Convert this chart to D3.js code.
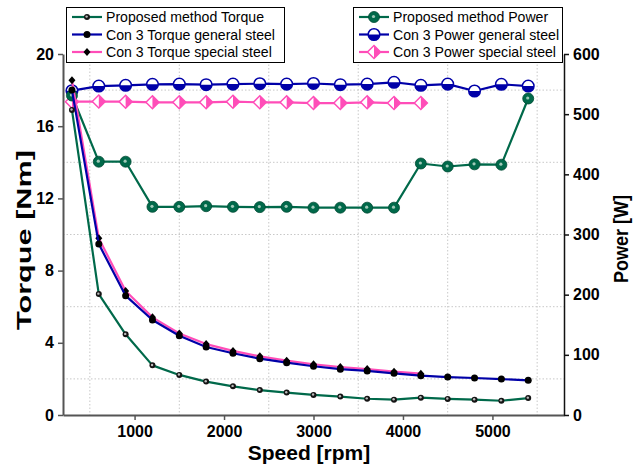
<!DOCTYPE html>
<html><head><meta charset="utf-8">
<script src="https://cdn.jsdelivr.net/npm/d3@7/dist/d3.min.js"></script>
<style>body{margin:0;background:#fff}svg{display:block}text{font-family:Arial,"Liberation Sans",sans-serif}</style>
</head><body>
<svg id="c" width="642" height="465"></svg>
<script>
const speeds = [300,600,900,1200,1500,1800,2100,2400,2700,3000,3300,3600,3900,4200,4500,4800,5100,5400];
const speedsSpecial = [300,600,900,1200,1500,1800,2100,2400,2700,3000,3300,3600,3900,4200];
const torqueProposed = [16.9,6.7,4.47,2.75,2.22,1.85,1.59,1.38,1.24,1.11,1.02,0.9,0.85,0.96,0.89,0.85,0.79,0.94];
const torqueGeneral = [18.0,9.47,6.61,5.26,4.39,3.77,3.42,3.12,2.9,2.7,2.54,2.44,2.31,2.18,2.1,2.05,1.99,1.92];
const torqueSpecial = [18.55,9.79,6.87,5.41,4.52,3.93,3.55,3.25,3.01,2.81,2.66,2.55,2.4,2.29];
const powerProposed = [531,421,421,346,346,347,346,345.5,346,344.6,344.6,344.6,344.6,418,413,416.6,416,526];
const powerGeneral = [539,546.7,548,549.6,550,549,550,550.6,550,551,549,550,553,548,550,538.5,549.6,546.7];
const powerSpecial = [520.7,521,520.7,519.7,519.7,519.7,520.7,519.7,519.7,518.5,518.5,519.7,518.5,518.5];
const xTicks = [1000,2000,3000,4000,5000];
const xGrid = [500,1500,2500,3500,4500,5500];
const torqueTicks = [0,4,8,12,16,20];
const torqueGrid = [2,6,10,14,18];
const powerTicks = [0,100,200,300,400,500,600];
const legendLeft = ["Proposed method Torque","Con 3 Torque general steel","Con 3 Torque special steel"];
const legendRight = ["Proposed method Power","Con 3 Power general steel","Con 3 Power special steel"];

const GREEN="#00694A", BLUE="#0000A8", PINK="#FF4DB8";
const L=63,R=564,T=54,B=415;
const svg=d3.select("#c");
const x=d3.scaleLinear().domain([200,5800]).range([L,R]);
const yT=d3.scaleLinear().domain([0,20]).range([B,T]);
const yP=d3.scaleLinear().domain([0,600]).range([B,T]);

// grid
const g=svg.append("g");
g.selectAll(".vg").data(xGrid).join("line").attr("x1",d=>x(d)).attr("x2",d=>x(d)).attr("y1",T).attr("y2",B)
 .attr("stroke","#c8c8c8").attr("stroke-width",1).attr("stroke-dasharray","1.5,2");
g.selectAll(".hg").data(torqueGrid).join("line").attr("y1",d=>yT(d)).attr("y2",d=>yT(d)).attr("x1",L).attr("x2",R)
 .attr("stroke","#c8c8c8").attr("stroke-width",1).attr("stroke-dasharray","1.5,2");

// axes
const ax=svg.append("g").attr("transform",`translate(0,${B})`).call(d3.axisBottom(x).tickValues(xTicks).tickFormat(d3.format("d")).tickSize(5).tickSizeOuter(0).tickPadding(6));
const ay=svg.append("g").attr("transform",`translate(${L},0)`).call(d3.axisLeft(yT).tickValues(torqueTicks).tickFormat(d3.format("d")).tickSize(5).tickSizeOuter(0).tickPadding(4));
const ar=svg.append("g").attr("transform",`translate(${R},0)`).call(d3.axisRight(yP).tickValues(powerTicks).tickFormat(d3.format("d")).tickSize(5).tickSizeOuter(0).tickPadding(4));
[ax,ay].forEach(a=>{a.select(".domain").attr("stroke","#555").attr("stroke-width",2);a.selectAll(".tick line").attr("stroke","#555").attr("stroke-width",1.5);});
ar.select(".domain").attr("stroke","#111").attr("stroke-width",1.5);ar.selectAll(".tick line").attr("stroke","#111").attr("stroke-width",1.5);
[ax,ay,ar].forEach(a=>a.selectAll("text").attr("font-size",16).attr("font-weight","bold").attr("fill","#000").attr("font-family","Arial, Liberation Sans"));
svg.append("text").attr("x",309).attr("y",460).attr("text-anchor","middle").attr("font-size",21).attr("font-weight","bold").text("Speed [rpm]");
svg.append("text").attr("transform",`translate(31,240) rotate(-90)`).attr("text-anchor","middle").attr("font-size",20).attr("font-weight","bold")
 .attr("textLength",180).attr("lengthAdjust","spacingAndGlyphs").text("Torque [Nm]");
svg.append("text").attr("transform",`translate(628,239) rotate(-90)`).attr("text-anchor","middle").attr("font-size",20).attr("font-weight","bold")
 .attr("textLength",88).attr("lengthAdjust","spacingAndGlyphs").text("Power [W]");

// marker functions
function mSmallBall(sel,cx,cy){sel.append("circle").attr("cx",cx).attr("cy",cy).attr("r",3).attr("fill","#151515");
 sel.append("circle").attr("cx",cx-0.4).attr("cy",cy-0.4).attr("r",1.2).attr("fill","#bbb");}
function mBlackDot(sel,cx,cy){sel.append("circle").attr("cx",cx).attr("cy",cy).attr("r",3.5).attr("fill","#000");}
function mBlackDiamond(sel,cx,cy){sel.append("path").attr("d",`M${cx},${cy-4}L${cx+3.5},${cy}L${cx},${cy+4}L${cx-3.5},${cy}Z`).attr("fill","#000");}
function mGreenBall(sel,cx,cy){sel.append("circle").attr("cx",cx).attr("cy",cy).attr("r",5.5).attr("fill",GREEN).attr("stroke","#004a33").attr("stroke-width",0.8);
 sel.append("circle").attr("cx",cx-0.5).attr("cy",cy-0.5).attr("r",1.6).attr("fill","#9fc9b8");}
function mHalfCircle(sel,cx,cy){const r=5.8;
 sel.append("circle").attr("cx",cx).attr("cy",cy).attr("r",r).attr("fill","#fff");
 sel.append("path").attr("d",`M${cx-r},${cy}A${r},${r} 0 0 0 ${cx+r},${cy}Z`).attr("fill",BLUE);
 sel.append("circle").attr("cx",cx).attr("cy",cy).attr("r",r).attr("fill","none").attr("stroke",BLUE).attr("stroke-width",1.5);}
function mHalfDiamond(sel,cx,cy){const w=6.5,h=6.5;
 sel.append("path").attr("d",`M${cx},${cy-h}L${cx+w},${cy}L${cx},${cy+h}L${cx-w},${cy}Z`).attr("fill","#fff");
 sel.append("path").attr("d",`M${cx},${cy-h}L${cx+w},${cy}L${cx},${cy+h}Z`).attr("fill",PINK);
 sel.append("path").attr("d",`M${cx},${cy-h}L${cx+w},${cy}L${cx},${cy+h}L${cx-w},${cy}Z`).attr("fill","none").attr("stroke",PINK).attr("stroke-width",1.5);}

function series(xs,ys,yScale,color,marker){
 const s=svg.append("g");
 const pts=xs.map((v,i)=>[x(v),yScale(ys[i])]);
 s.append("path").attr("d",d3.line()(pts)).attr("fill","none").attr("stroke",color).attr("stroke-width",2.2).attr("stroke-linejoin","round");
 pts.forEach(p=>marker(s,p[0],p[1]));
}
series(speedsSpecial,powerSpecial,yP,PINK,mHalfDiamond);
series(speeds,powerGeneral,yP,BLUE,mHalfCircle);
series(speeds,powerProposed,yP,GREEN,mGreenBall);
series(speedsSpecial,torqueSpecial,yT,PINK,mBlackDiamond);
series(speeds,torqueGeneral,yT,BLUE,mBlackDot);
series(speeds,torqueProposed,yT,GREEN,mSmallBall);

// legends
function legend(x0,labels,colors,markers,w){
 const lg=svg.append("g");
 lg.append("rect").attr("x",x0+0.5).attr("y",7.5).attr("width",w).attr("height",55).attr("fill","#fff").attr("stroke","#000").attr("stroke-width",1);
 labels.forEach((t,i)=>{const cy=17+i*17.5;
  lg.append("line").attr("x1",x0+6).attr("x2",x0+36).attr("y1",cy).attr("y2",cy).attr("stroke",colors[i]).attr("stroke-width",2.2);
  markers[i](lg,x0+21,cy);
  lg.append("text").attr("x",x0+40).attr("y",cy+5).attr("font-size",14.1).text(t);});
}
legend(66,legendLeft,[GREEN,BLUE,PINK],[mSmallBall,mBlackDot,mBlackDiamond],218);
legend(353,legendRight,[GREEN,BLUE,PINK],[mGreenBall,mHalfCircle,mHalfDiamond],209);
</script></body></html>
